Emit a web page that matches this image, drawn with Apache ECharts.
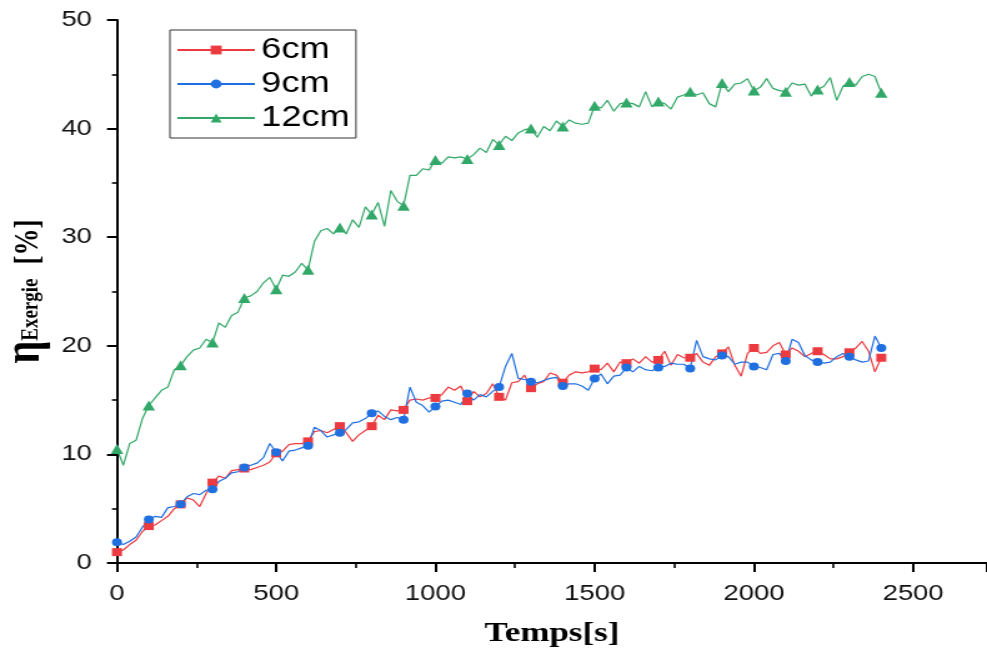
<!DOCTYPE html>
<html>
<head>
<meta charset="utf-8">
<title>Rendement exergétique</title>
<script src="https://cdn.jsdelivr.net/npm/echarts@6/dist/echarts.min.js"></script>
<style>
  html, body { margin: 0; padding: 0; background: #fff; overflow: hidden; }
  /* the figure is drawn on a narrower canvas and widened horizontally */
  #chart { width: 790px; height: 651px; transform: scaleX(1.249367); transform-origin: 0 0; }
</style>
</head>
<body>
<div id="chart"></div>
<script>
// Time samples [s]
const times = [
  0, 20, 40, 60, 80, 100, 120, 140, 160, 180,
  200, 220, 240, 260, 280, 300, 320, 340, 360, 380,
  400, 420, 440, 460, 480, 500, 520, 540, 560, 580,
  600, 620, 640, 660, 680, 700, 720, 740, 760, 780,
  800, 820, 840, 860, 880, 900, 920, 940, 960, 980,
  1000, 1020, 1040, 1060, 1080, 1100, 1120, 1140, 1160, 1180,
  1200, 1220, 1240, 1260, 1280, 1300, 1320, 1340, 1360, 1380,
  1400, 1420, 1440, 1460, 1480, 1500, 1520, 1540, 1560, 1580,
  1600, 1620, 1640, 1660, 1680, 1700, 1720, 1740, 1760, 1780,
  1800, 1820, 1840, 1860, 1880, 1900, 1920, 1940, 1960, 1980,
  2000, 2020, 2040, 2060, 2080, 2100, 2120, 2140, 2160, 2180,
  2200, 2220, 2240, 2260, 2280, 2300, 2320, 2340, 2360, 2380,
  2400
];

// Exergy efficiency [%], 6 cm
const eta6cm = [
  1.0, 1.2, 1.7, 2.1, 2.9, 3.4, 3.5, 3.9, 4.3, 5.0,
  5.4, 6.0, 5.8, 5.2, 6.4, 7.4, 8.0, 7.8, 8.5, 8.6,
  8.7, 8.6, 8.8, 9.0, 9.3, 10.1, 10.3, 10.9, 11.0, 11.0,
  11.2, 12.1, 12.2, 12.0, 12.3, 12.6, 12.0, 11.2, 11.8, 12.2,
  12.6, 13.6, 13.2, 14.1, 14.0, 14.1, 15.0, 15.1, 15.0, 15.2,
  15.2, 15.5, 16.2, 15.9, 16.3, 14.9, 15.8, 15.3, 15.6, 16.5,
  15.3, 15.0, 16.6, 16.7, 17.3, 16.1, 16.5, 16.7, 17.5, 17.3,
  16.6, 17.3, 17.6, 17.5, 17.6, 17.9, 17.8, 18.4, 17.6, 18.5,
  18.4, 18.8, 18.4, 19.0, 18.5, 18.7, 19.5, 18.2, 19.2, 18.9,
  18.9, 19.3, 18.5, 18.2, 19.0, 19.3, 19.9, 18.2, 17.2, 19.3,
  19.8, 19.3, 19.4, 20.0, 20.3, 19.2, 19.8, 19.5, 19.0, 19.3,
  19.5, 19.2, 18.8, 18.8, 19.0, 19.4, 19.8, 20.4, 19.5, 17.6,
  18.9
];

// Exergy efficiency [%], 9 cm
const eta9cm = [
  1.9, 1.7, 2.0, 2.4, 3.3, 4.0, 4.3, 4.2, 5.1, 5.2,
  5.4, 6.1, 6.4, 6.3, 6.7, 6.8, 7.5, 7.8, 8.3, 8.4,
  8.8, 9.0, 9.2, 9.7, 11.0, 10.2, 9.4, 10.3, 10.4, 10.6,
  10.8, 12.5, 12.2, 11.6, 11.8, 12.0, 12.3, 12.9, 13.0, 13.3,
  13.8, 14.0, 13.5, 13.2, 13.4, 13.2, 16.2, 14.8, 14.5, 13.9,
  14.4, 14.9, 15.0, 14.8, 14.6, 15.6, 15.0, 15.5, 15.3, 15.8,
  16.2, 18.1, 19.3, 17.0, 16.9, 16.7, 16.6, 16.8, 17.0, 17.1,
  16.3, 16.5, 16.5, 16.3, 15.9, 17.0, 17.4, 16.5, 17.2, 17.3,
  18.0, 17.6, 18.1, 17.8, 17.7, 18.0, 18.1, 18.4, 18.3, 18.3,
  17.9, 20.5, 19.0, 18.8, 18.7, 19.1, 19.0, 18.3, 18.5, 18.5,
  18.1, 18.0, 17.8, 19.2, 19.3, 18.6, 20.6, 20.3, 19.1, 18.7,
  18.5, 18.4, 18.5, 19.0, 19.3, 19.0, 18.7, 18.5, 18.6, 20.9,
  19.8
];

// Exergy efficiency [%], 12 cm
const eta12cm = [
  10.5, 9.0, 11.0, 11.3, 13.3, 14.5, 15.2, 15.9, 16.2, 17.8,
  18.2, 19.0, 19.6, 19.8, 20.6, 20.3, 22.1, 21.7, 22.8, 23.1,
  24.4, 24.6, 25.0, 25.8, 26.3, 25.2, 26.5, 26.4, 26.8, 27.6,
  27.0, 29.6, 30.6, 30.8, 30.3, 30.9, 30.3, 31.6, 30.9, 32.8,
  32.1, 33.2, 31.0, 34.3, 33.3, 32.9, 35.7, 35.7, 36.3, 36.2,
  37.1, 36.8, 37.4, 37.3, 37.4, 37.2, 37.6, 38.2, 37.8, 39.0,
  38.5, 39.3, 38.9, 39.6, 39.9, 40.0, 39.2, 40.2, 39.8, 40.7,
  40.2, 40.8, 40.5, 40.4, 40.5, 42.1, 41.9, 42.6, 41.6, 42.3,
  42.4, 42.3, 42.0, 43.4, 42.0, 42.5, 42.3, 41.8, 42.9, 43.1,
  43.4, 43.1, 43.3, 42.3, 42.0, 44.2, 43.4, 44.1, 44.2, 44.6,
  43.5, 43.8, 44.6, 43.7, 43.5, 43.4, 44.2, 44.0, 44.1, 43.0,
  43.6, 43.9, 44.7, 42.6, 43.9, 44.3, 44.0, 44.8, 45.0, 44.8,
  43.3
];

const seriesNames = ['6cm', '9cm', '12cm'];
const xTickLabels = [0, 500, 1000, 1500, 2000, 2500];
const yTickLabels = [0, 10, 20, 30, 40, 50];

const chart = echarts.init(document.getElementById('chart'), null, { renderer: 'canvas' });

const sansFont = '"Liberation Sans", Arial, sans-serif';
const serifFont = '"Liberation Serif", "Times New Roman", serif';

function curve(name, values, color, symbol, size) {
  return {
    name: name,
    type: 'line',
    xAxisIndex: 0,
    yAxisIndex: 0,
    data: times.map((t, i) => [t, values[i]]),
    symbol: symbol,
    // a marker every 100 s
    symbolSize: (v) => (v[0] % 100 === 0 ? size : 0),
    showAllSymbol: true,
    lineStyle: { color: color, width: 1.2 },
    itemStyle: { color: color },
    emphasis: { disabled: true },
    silent: true
  };
}

const axisBlack = { color: '#000', width: 2 };

chart.setOption({
  animation: false,
  backgroundColor: '#fff',
  grid: { left: 93.6, right: 0, top: 20, bottom: 88, containLabel: false, outerBoundsMode: 'none' },
  legend: {
    data: seriesNames,
    orient: 'vertical',
    left: 136,
    top: 30,
    padding: [3, 5, 3, 5],
    itemWidth: 62,
    itemHeight: 11,
    itemGap: 0,
    borderColor: '#333',
    borderWidth: 1,
    textStyle: { fontFamily: sansFont, fontSize: 29, color: '#000', lineHeight: 34 }
  },
  xAxis: [
    {
      type: 'value',
      min: 0,
      max: 2732,
      interval: 500,
      position: 'bottom',
      name: 'Temps[s]',
      nameLocation: 'middle',
      nameGap: 57,
      nameMoveOverlap: false,
      nameTextStyle: { fontFamily: serifFont, fontWeight: 'bold', fontSize: 28, color: '#000' },
      axisLine: { show: true, onZero: false, lineStyle: axisBlack },
      axisTick: { show: true, length: 9, lineStyle: axisBlack },
      axisLabel: {
        margin: 20,
        fontFamily: sansFont, fontSize: 22, color: '#111',
        formatter: (v) => (xTickLabels.indexOf(v) >= 0 ? String(v) : '')
      },
      splitLine: { show: false }
    },
    {
      // minor ticks every 250 s
      type: 'value',
      min: 0,
      max: 2732,
      interval: 250,
      position: 'bottom',
      axisLine: { show: false },
      axisTick: { show: true, length: 5, lineStyle: { color: '#000', width: 1.6 } },
      axisLabel: { show: false },
      splitLine: { show: false }
    }
  ],
  yAxis: {
    type: 'value',
    min: 0,
    max: 50,
    interval: 10,
    name: '{eta|η}{sub|Exergie}{pct|[%]}',
    nameLocation: 'middle',
    nameRotate: 90,
    nameGap: 59,
    nameMoveOverlap: false,
    nameTextStyle: {
      color: '#000',
      rich: {
        eta: { fontFamily: serifFont, fontWeight: 'bold', fontSize: 40, lineHeight: 34, verticalAlign: 'top', padding: [0, 0, 11, 0], color: '#000' },
        sub: { fontFamily: serifFont, fontWeight: 'bold', fontSize: 19, lineHeight: 19, verticalAlign: 'bottom', color: '#000' },
        pct: { fontFamily: serifFont, fontWeight: 'bold', fontSize: 27, lineHeight: 27, verticalAlign: 'top', padding: [9, 0, 0, 14], color: '#000' }
      }
    },
    axisLine: { show: true, lineStyle: axisBlack },
    axisTick: { show: true, length: 8, lineStyle: axisBlack },
    minorTick: { show: true, splitNumber: 2, length: 4, lineStyle: { color: '#000', width: 1.6 } },
    axisLabel: {
      margin: 20,
      fontFamily: sansFont, fontSize: 22, color: '#111',
      formatter: (v) => (yTickLabels.indexOf(v) >= 0 ? String(v) : '')
    },
    splitLine: { show: false },
    minorSplitLine: { show: false }
  },
  series: [
    curve(seriesNames[0], eta6cm, '#ec3b40', 'rect', 8),
    curve(seriesNames[1], eta9cm, '#1f6fe0', 'circle', 8),
    curve(seriesNames[2], eta12cm, '#32a868', 'triangle', 10)
  ]
});
</script>
</body>
</html>
